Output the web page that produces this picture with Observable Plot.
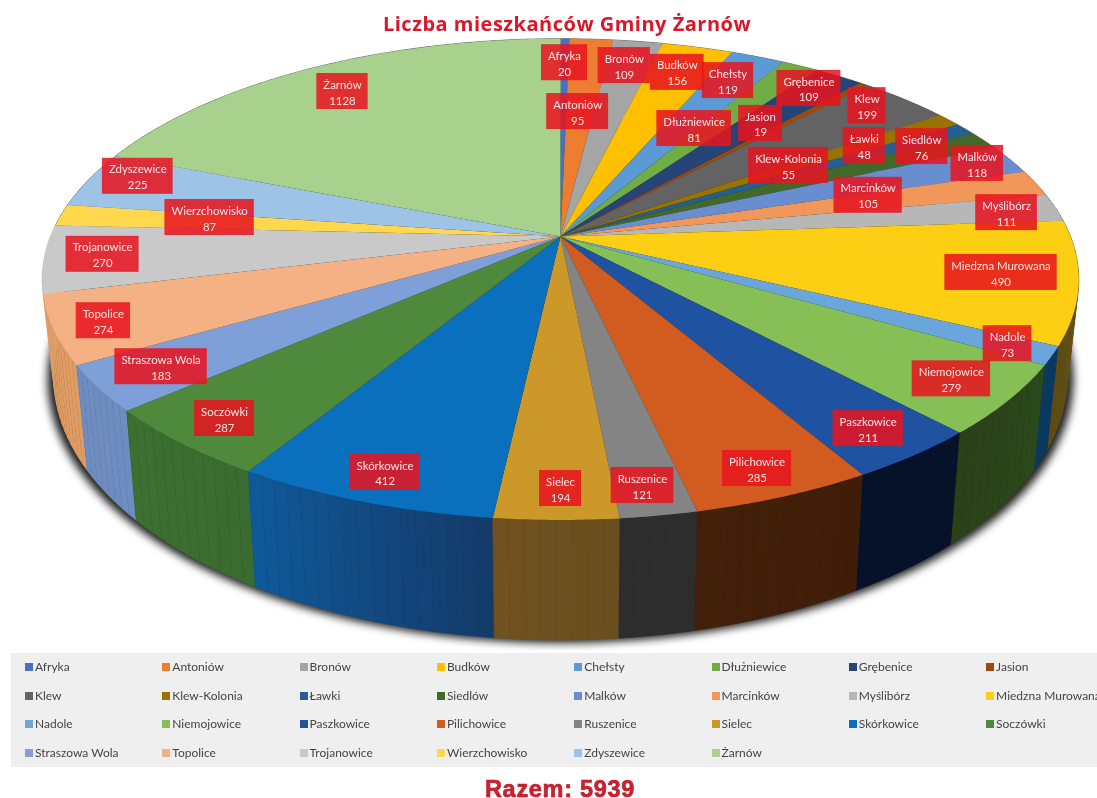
<!DOCTYPE html>
<html lang="pl">
<head>
<meta charset="utf-8">
<script src="https://cdn.jsdelivr.net/npm/d3@7"></script>
<script src="https://cdn.jsdelivr.net/npm/@observablehq/plot@0.6"></script>
<style>
  html, body { margin: 0; padding: 0; background: #fff; width: 1097px; height: 798px; overflow: hidden; }
  #title { height: 36px; text-align: center; padding-left: 37px; box-sizing: border-box;
    font: 700 20px/47px "Open Sans", sans-serif; letter-spacing: .5px; color: #d9162a; filter: blur(.4px); }
  #chart { height: 614px; }
  #chart svg { display: block; filter: blur(.5px); }
  #legend { position: absolute; left: 11px; top: 653px; width: 1086px; height: 114px; background: #efefef; overflow: hidden; }
  .item { position: absolute; font: 12px/14px Lato, sans-serif; color: #444; white-space: nowrap; filter: blur(.45px); }
  .item i { display: inline-block; width: 8px; height: 8px; margin-right: 2px; }
  #total { position: absolute; left: 0; width: 1097px; top: 778px; text-align: center; padding-left: 23px; box-sizing: border-box;
    font: 700 23.5px/22px "Liberation Sans", sans-serif; color: #cf2030; letter-spacing: .7px;
    -webkit-text-stroke: .6px #b8141f; filter: blur(.4px); }
</style>
</head>
<body>
<div id="title">Liczba mieszkańców Gminy Żarnów</div>
<div id="chart"></div>
<div id="legend"></div>
<div id="total">Razem: 5939</div>
<script>
const names = ["Afryka","Antoniów","Bronów","Budków","Chełsty","Dłużniewice","Grębenice","Jasion","Klew","Klew-Kolonia","Ławki","Siedlów","Malków","Marcinków","Myślibórz","Miedzna Murowana","Nadole","Niemojowice","Paszkowice","Pilichowice","Ruszenice","Sielec","Skórkowice","Soczówki","Straszowa Wola","Topolice","Trojanowice","Wierzchowisko","Zdyszewice","Żarnów"];
const values = [20,95,109,156,119,81,109,19,199,55,48,76,118,105,111,490,73,279,211,285,121,194,412,287,183,274,270,87,225,1128];
const colors = ["#4472c4","#ed7d31","#a5a5a5","#ffc000","#5b9bd5","#70ad47","#264478","#9e480e","#636363","#997300","#255e91","#43682b","#698ed0","#f1975a","#b7b7b7","#fccf14","#6aa5db","#85bf55","#1f52a0","#d25c20","#848484","#cd982a","#0a6fbd","#4f8a3c","#7f9fd8","#f4b183","#c9c9c9","#ffd84e","#9dc3e6","#a9d18e"];

// Placement of each data label along its slice: share of the radius, and a small turn off the slice's middle (degrees).
const labelRadius = [.86,.594,.856,.847,.846,.58,.903,.683,.914,.572,.765,.866,.927,.649,.897,.854,.915,.884,.891,.907,.908,.907,.906,.897,.875,.908,.889,.703,.91,.849];
const labelTurn = [0,-.5,-.6,-.3,-.5,-3.2,-1,-3.4,-2,-.9,-3,-2.1,-.4,-2.5,.6,-.8,-.3,-.1,.3,.3,.6,-.4,0,.2,.3,0,.6,1.4,2.5,-.3];
// Side wall colour at the start and end of each slice; the slices at the back stay hidden.
const hiddenWall = ["#555555","#555555"];
const wallColors = [hiddenWall,hiddenWall,hiddenWall,hiddenWall,hiddenWall,hiddenWall,hiddenWall,hiddenWall,hiddenWall,hiddenWall,hiddenWall,hiddenWall,hiddenWall,hiddenWall,hiddenWall,
  ["#6b5a18","#5d4d14"],["#0a3a60","#0a3a60"],["#2b4a1c","#2b4019"],["#06112a","#06112a"],["#3f1d08","#42200a"],["#2d2d2d","#2d2d2d"],["#6b4e1f","#6f521f"],["#143a68","#0f5a9c"],["#3a6b30","#3c7030"],["#6d8cc0","#6d8cc0"],["#e09c62","#e09c62"],["#b8b8b8","#b8b8b8"],hiddenWall,hiddenWall,hiddenWall];

// Perspective view of the disc
const view = {cx: 560, cy: 236, R: 510, S: 233, p: .178};
const base = {sx: .978, sy: 1.097, y0: 520, y1: 640};
const rad = Math.PI / 180;
function onTop(theta, r = 1) {
  const u = r * Math.sin(theta * rad), v = -r * Math.cos(theta * rad), d = 1 - view.p * v;
  return [view.cx + view.R * u / d, view.cy + view.S * v / d];
}
function onBase(theta) {
  const [x, y] = onTop(theta);
  return [view.cx + base.sx * (x - view.cx), base.y1 + base.sy * (y - base.y0)];
}

const total = d3.sum(values);
let cum = 0;
const slices = names.map((name, i) => {
  const a0 = cum / total * 360; cum += values[i];
  return {name, value: values[i], a0, a1: cum / total * 360, i};
});

// Top faces
const faces = slices.flatMap(s => {
  const n = Math.max(2, Math.ceil((s.a1 - s.a0) * 2));
  const pts = [{name: s.name, p: [view.cx, view.cy]}];
  for (let k = 0; k <= n; k++) pts.push({name: s.name, p: onTop(s.a0 + (s.a1 - s.a0) * k / n)});
  return pts;
});

// Side wall, slice by slice, in thin vertical strips, back to front
const strips = [];
slices.forEach(s => {
  const n = Math.max(1, Math.ceil((s.a1 - s.a0) / 1.5));
  const mix = d3.interpolateRgb(wallColors[s.i][0], wallColors[s.i][1]);
  for (let k = 0; k < n; k++) {
    const a = s.a0 + (s.a1 - s.a0) * k / n, b = s.a0 + (s.a1 - s.a0) * (k + 1) / n;
    strips.push({id: "wall " + s.i + "-" + k, color: mix((k + .5) / n), depth: -Math.cos((a + b) / 2 * rad), corners: [onTop(a), onTop(b), onBase(b), onBase(a)]});
  }
});
strips.sort((p, q) => p.depth - q.depth);
const wallPts = strips.flatMap(s => s.corners.map(p => ({id: s.id, p})));

// Drop shadow under the base
const shadow = d3.range(0, 361, 2).map(a => {
  const [x, y] = onBase(a);
  return {p: [view.cx + (x - view.cx) * 1.012, y + 3]};
});

// Labels
const fontSize = 11.4;
const measure = document.createElement("canvas").getContext("2d");
measure.font = fontSize + "px Lato";
const labels = slices.map(s => {
  const [x, y] = onTop((s.a0 + s.a1) / 2 + labelTurn[s.i], labelRadius[s.i]);
  const w = Math.max(measure.measureText(s.name).width, 20) + 13;
  return {name: s.name, value: s.value, x, y, x1: x - w / 2, x2: x + w / 2, y1: y - 18, y2: y + 18};
});

const X = d => d.p[0], Y = d => d.p[1];
const chart = Plot.plot({
  width: 1097, height: 614, margin: 0,
  x: {domain: [0, 1097], range: [0, 1097], axis: null},
  y: {domain: [36, 650], range: [0, 614], axis: null},
  color: {domain: names.concat(strips.map(s => s.id)), range: colors.concat(strips.map(s => s.color))},
  style: {background: "transparent"},
  marks: [
    Plot.line(shadow, {x: X, y: Y, fill: "#1c1c1c", stroke: "none", imageFilter: "blur(4px)"}),
    Plot.line(wallPts, {x: X, y: Y, z: "id", fill: "id", stroke: "id", strokeWidth: .7}),
    Plot.line(faces, {x: X, y: Y, z: "name", fill: "name", stroke: "none"}),
    Plot.rect(labels, {x1: "x1", x2: "x2", y1: "y1", y2: "y2", fill: "#e8141e", fillOpacity: .86}),
    Plot.text(labels, {x: "x", y: "y", text: d => d.name + "\n" + d.value, fill: "#fbe6e6", fontFamily: "Lato, sans-serif", fontSize, lineHeight: 1.4, lineAnchor: "middle"})
  ]
});
document.getElementById("chart").append(chart);

// Legend
const legend = document.getElementById("legend");
names.forEach((name, i) => {
  const el = document.createElement("div");
  el.className = "item";
  el.style.left = (14 + (i % 8) * 137.3) + "px";
  el.style.top = (7 + Math.floor(i / 8) * 28.6) + "px";
  const sw = document.createElement("i");
  sw.style.background = colors[i];
  el.append(sw, name);
  legend.append(el);
});
</script>
</body>
</html>
